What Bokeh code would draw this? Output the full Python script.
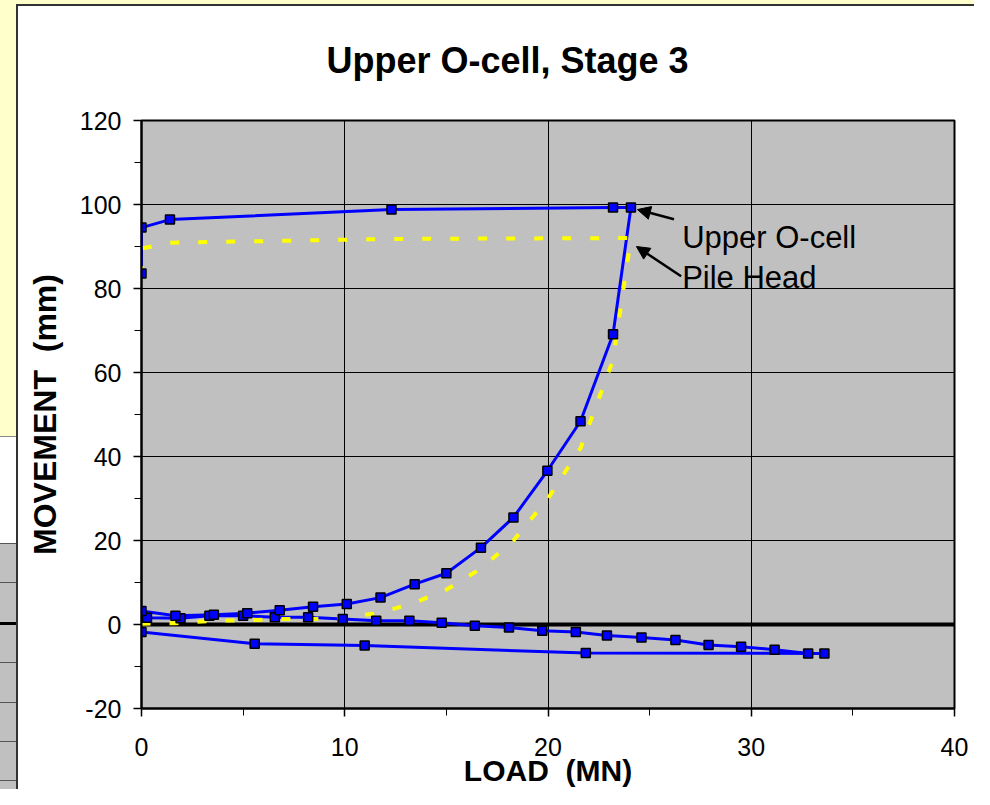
from bokeh.plotting import figure
from bokeh.models import (Range1d, Label, Arrow, NormalHead,
                          SingleIntervalTicker)
from bokeh.embed import file_html
from bokeh.resources import INLINE

# ---------------- data ----------------
# Upper O-cell: loading to failure and unloading
ocell_load = [0, 1.67, 3.56, 5.2, 6.8, 8.44, 10.1, 11.76, 13.44, 15.0, 16.7,
              18.3, 19.97, 21.6, 23.2, 24.08, 23.2, 12.3, 1.4, 0, 0]
ocell_move = [3.2, 2.1, 2.3, 2.7, 3.4, 4.2, 4.9, 6.4, 9.6, 12.2, 18.3,
              25.5, 36.6, 48.4, 69.1, 99.3, 99.3, 98.8, 96.4, 94.5, 83.6]
# downward (lower) movement branch
lower_load = [0, 0.27, 1.92, 3.34, 5.0, 6.56, 8.2, 9.9, 11.55, 13.18, 14.77,
              16.4, 18.08, 19.72, 21.37, 22.9, 24.6, 26.27, 27.9, 29.5, 31.15,
              32.8, 33.6, 21.86, 10.98, 5.57, 0]
lower_move = [1.9, 1.6, 1.5, 2.1, 2.1, 1.7, 1.7, 1.3, 0.9, 0.9, 0.4,
              -0.3, -0.7, -1.5, -1.8, -2.6, -3.1, -3.7, -4.9, -5.3, -6.0,
              -6.9, -6.9, -6.8, -5.0, -4.6, -1.8]
# Pile head
head_load = [0, 1.67, 3.56, 5.2, 6.8, 8.44, 10.1, 11.76, 13.44, 15.0, 16.7,
             18.3, 19.97, 21.6, 23.2, 24.08, 23.2, 12.3, 1.4, 0, 0]
head_move = [0.2, 0.3, 0.9, 1.0, 1.3, 1.3, 1.7, 2.8, 5.2, 8.3, 13.3,
             20.0, 29.8, 42.0, 63.0, 92.0, 92.0, 91.8, 90.9, 89.5, 81.8]
# zero reference line
zero_load = [0, 40]
zero_move = [0, 0]

title_text = "Upper O-cell, Stage 3"
x_label = "LOAD \u00a0(MN)"
y_label = "MOVEMENT \u00a0(mm)"
ann_texts = ["Upper O-cell", "Pile Head"]

FONT = "Liberation Sans"
BLUE = "#0000FF"
YELLOW = "#FFFF00"

# page background (spreadsheet behind the chart object)
bg_layers = [
    "linear-gradient(#333,#333) 16px 4px / 2px 100% no-repeat",
    "linear-gradient(#333,#333) 16px 4px / 100% 2px no-repeat",
    "linear-gradient(#888,#888) 0 436px / 16px 1px no-repeat",
    "linear-gradient(#555,#555) 0 543px / 16px 1px no-repeat",
    "linear-gradient(#555,#555) 0 582px / 16px 1px no-repeat",
    "linear-gradient(#000,#000) 0 622px / 16px 3px no-repeat",
    "linear-gradient(#555,#555) 0 662px / 16px 1px no-repeat",
    "linear-gradient(#555,#555) 0 702px / 16px 1px no-repeat",
    "linear-gradient(#555,#555) 0 741px / 16px 1px no-repeat",
    "linear-gradient(#555,#555) 0 780px / 16px 1px no-repeat",
    "linear-gradient(#C0C0C0,#C0C0C0) 0 543px / 16px 100% no-repeat",
    "linear-gradient(#FFFFCC,#FFFFCC) 0 0 / 100% 4px no-repeat",
    "linear-gradient(#FFFFCC,#FFFFCC) 0 0 / 16px 436px no-repeat",
    "white",
]

W, H = 974, 789
p = figure(width=W, height=H, output_backend="svg", toolbar_location=None,
           x_range=Range1d(0, 40), y_range=Range1d(-20, 120),
           min_border_left=141, min_border_right=20,
           min_border_top=120, min_border_bottom=81)
p.styles = {"background": ", ".join(bg_layers)}
p.background_fill_color = "#C0C0C0"
p.border_fill_color = None
p.outline_line_color = "black"
p.outline_line_width = 2

# title
p.title.text = title_text
p.title.text_font = FONT
p.title.text_font_size = "36px"
p.title.text_font_style = "bold"
p.title.text_color = "black"
p.title.align = "left"
p.title.vertical_align = "top"
p.title.offset = 185
p.title.standoff = 76

# axes
p.xaxis.ticker = SingleIntervalTicker(interval=10, num_minor_ticks=2)
p.yaxis.ticker = SingleIntervalTicker(interval=20, num_minor_ticks=2)
for ax in (p.xaxis[0], p.yaxis[0]):
    ax.axis_line_color = "black"
    ax.axis_line_width = 2
    ax.major_tick_in = 0
    ax.major_tick_out = 8
    ax.minor_tick_in = 0
    ax.minor_tick_out = 7
    ax.major_tick_line_color = "black"
    ax.minor_tick_line_color = "black"
    ax.major_tick_line_width = 1.5
    ax.minor_tick_line_width = 1
    ax.major_label_text_font = FONT
    ax.major_label_text_font_size = "25px"
    ax.major_label_text_color = "black"
    ax.axis_label_text_font = FONT
    ax.axis_label_text_font_style = "bold"
    ax.axis_label_text_color = "black"
p.yaxis.major_label_overrides = {-20: "-20"}
p.xaxis.axis_label = x_label
p.yaxis.axis_label = y_label
p.xaxis.axis_label_text_font_size = "30px"
p.yaxis.axis_label_text_font_size = "32px"
p.xaxis.major_label_standoff = 21
p.yaxis.major_label_standoff = 12
p.xaxis.axis_label_standoff = -5
p.yaxis.axis_label_standoff = 14

p.xgrid.grid_line_color = "black"
p.ygrid.grid_line_color = "black"
p.xgrid.grid_line_width = 1
p.ygrid.grid_line_width = 1

# series
p.line(zero_load, zero_move, line_color="black", line_width=4)
p.line(lower_load, lower_move, line_color=BLUE, line_width=3)
p.line(ocell_load, ocell_move, line_color=BLUE, line_width=3)
p.line(head_load, head_move, line_color=YELLOW, line_width=4,
       line_dash="9 19")
p.scatter(lower_load, lower_move, marker="square", size=9,
          fill_color=BLUE, line_color="black", line_width=1.5)
p.scatter(ocell_load, ocell_move, marker="square", size=9,
          fill_color=BLUE, line_color="black", line_width=1.5)

# annotations
p.add_layout(Label(x=26.6, y=92.2, text=ann_texts[0], text_font=FONT,
                   text_font_size="31px", text_color="black",
                   text_baseline="alphabetic"))
p.add_layout(Label(x=26.6, y=82.6, text=ann_texts[1], text_font=FONT,
                   text_font_size="31px", text_color="black",
                   text_baseline="alphabetic"))
p.add_layout(Arrow(end=NormalHead(size=13, fill_color="black",
                                  line_color="black"),
                   x_start=26.2, y_start=96.5, x_end=24.4, y_end=98.8,
                   line_color="black", line_width=2.5))
p.add_layout(Arrow(end=NormalHead(size=13, fill_color="black",
                                  line_color="black"),
                   x_start=26.55, y_start=82.9, x_end=24.35, y_end=90.0,
                   line_color="black", line_width=2.5))

open("out.html", "w").write(file_html(p, INLINE))
